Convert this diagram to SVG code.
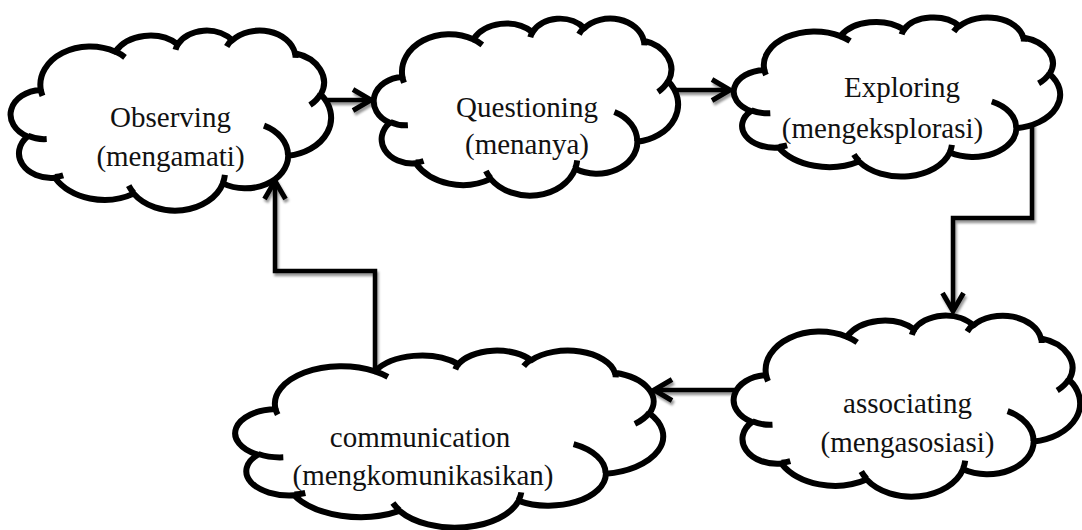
<svg xmlns="http://www.w3.org/2000/svg" width="1082" height="530" viewBox="0 0 1082 530">
<style>
.cloud{fill:#fff;stroke:#000;stroke-width:6;stroke-linejoin:round}
.inner{fill:none;stroke:#000;stroke-width:6}
.lbl{font-family:"Liberation Serif","Times New Roman",serif;font-size:29px;fill:#111;text-anchor:middle}
.conn{fill:none;stroke:#000;stroke-width:4.5;stroke-linejoin:miter}
</style>
<defs>
<marker id="arrow" markerUnits="userSpaceOnUse" markerWidth="40" markerHeight="40" refX="0" refY="0" orient="auto" overflow="visible">
<path d="M-18 -10.5 L0 0 L-18 10.5" fill="none" stroke="#000" stroke-width="5" stroke-linejoin="miter"/>
</marker>
<filter id="shadow" x="-20%" y="-20%" width="140%" height="140%">
<feDropShadow dx="1.5" dy="3" stdDeviation="1.3" flood-color="#000" flood-opacity="0.4"/>
</filter>
</defs>

<g id="node-observing">
<path class="cloud" d="M40.8 89.9 A49.87 38.29 0 0 1 115.4 51.7 A39.38 30.28 0 0 1 177.8 44.3 A32.23 24.77 0 0 1 232.3 40.3 A35.86 27.48 0 0 1 295 53.2 A39.38 30.3 0 0 1 320.8 94.4 A50.03 38.42 0 0 1 288.2 155.8 A42.72 32.78 0 0 1 222.9 183.4 A49.86 38.4 0 0 1 133.7 193.6 A57.01 43.93 0 0 1 54.9 177.8 A32.2 24.66 0 0 1 27.6 136.5 A32.09 24.77 0 0 1 40.8 89.9 Z"/>
<path class="inner" d="M46.7 139.1 A32.09 24.77 0 0 1 28 135.8 M63.2 175.4 A32.2 24.66 0 0 1 55 177 M133.7 192.9 A49.86 38.4 0 0 1 128.7 185.6 M224.9 174.8 A49.86 38.4 0 0 1 222.9 182.8 M264 125.6 A42.72 32.78 0 0 1 288 155.4 M320.6 94 A39.38 30.3 0 0 1 310 105.1 M295 52.6 A35.86 27.48 0 0 1 295.6 57.9 M226.7 46.5 A35.86 27.48 0 0 1 232.2 39.8 M175.5 49.7 A32.23 24.77 0 0 1 178.1 43.9 M115.4 51.6 A49.87 38.29 0 0 1 125 57.3 M42.5 95.8 A49.87 38.29 0 0 1 40.8 89.9"/>
<text class="lbl" x="170.5" y="127">Observing</text>
<text class="lbl" x="170.5" y="166">(mengamati)</text>
</g>

<g id="node-questioning">
<path class="cloud" d="M402.4 76.9 A47.36 37.65 0 0 1 473.2 39.3 A37.41 29.77 0 0 1 532.5 32.1 A30.62 24.36 0 0 1 584.2 28.2 A34.07 27.02 0 0 1 643.8 40.8 A37.41 29.8 0 0 1 668.3 81.3 A47.52 37.78 0 0 1 637.4 141.7 A40.57 32.23 0 0 1 575.3 168.8 A47.36 37.76 0 0 1 490.6 178.9 A54.15 43.2 0 0 1 415.7 163.3 A30.58 24.25 0 0 1 389.8 122.7 A30.48 24.36 0 0 1 402.4 76.9 Z"/>
<path class="inner" d="M407.9 125.3 A30.48 24.36 0 0 1 390.2 122 M423.6 161 A30.58 24.25 0 0 1 415.8 162.6 M490.6 178.2 A47.36 37.76 0 0 1 485.9 171 M577.2 160.4 A47.36 37.76 0 0 1 575.3 168.2 M614.4 112 A40.57 32.23 0 0 1 637.2 141.3 M668.2 80.9 A37.41 29.8 0 0 1 658 91.9 M643.8 40.2 A34.07 27.02 0 0 1 644.3 45.4 M579 34.2 A34.07 27.02 0 0 1 584.2 27.6 M530.3 37.3 A30.62 24.36 0 0 1 532.8 31.6 M473.2 39.3 A47.36 37.65 0 0 1 482.3 44.8 M404 82.7 A47.36 37.65 0 0 1 402.4 76.9"/>
<text class="lbl" x="527" y="117">Questioning</text>
<text class="lbl" x="527" y="154">(menanya)</text>
</g>

<g id="node-exploring">
<path class="cloud" d="M764.3 69.9 A50.8 33.82 0 0 1 840.4 36.1 A40.12 26.75 0 0 1 903.9 29.6 A32.84 21.88 0 0 1 959.4 26.1 A36.54 24.27 0 0 1 1023.3 37.5 A40.12 26.77 0 0 1 1049.6 73.9 A50.97 33.94 0 0 1 1016.4 128.2 A43.52 28.96 0 0 1 949.8 152.5 A50.8 33.92 0 0 1 859 161.5 A58.08 38.8 0 0 1 778.7 147.5 A32.8 21.78 0 0 1 750.9 111 A32.69 21.88 0 0 1 764.3 69.9 Z"/>
<path class="inner" d="M770.3 113.3 A32.69 21.88 0 0 1 751.3 110.4 M787.1 145.4 A32.8 21.78 0 0 1 778.8 146.9 M859 160.9 A50.8 33.92 0 0 1 853.9 154.5 M951.9 144.9 A50.8 33.92 0 0 1 949.9 151.9 M991.8 101.5 A43.52 28.96 0 0 1 1016.2 127.7 M1049.5 73.5 A40.12 26.77 0 0 1 1038.6 83.4 M1023.3 37 A36.54 24.27 0 0 1 1023.9 41.6 M953.8 31.5 A36.54 24.27 0 0 1 959.3 25.6 M901.6 34.4 A32.84 21.88 0 0 1 904.3 29.3 M840.3 36.1 A50.8 33.82 0 0 1 850.1 41.1 M766 75.1 A50.8 33.82 0 0 1 764.3 69.9"/>
<text class="lbl" x="902" y="97">Exploring</text>
<text class="lbl" x="882.5" y="138">(mengeksplorasi)</text>
</g>

<g id="node-associating">
<path class="cloud" d="M766.1 375.2 A53.93 38.5 0 0 1 846.8 336.8 A42.59 30.45 0 0 1 914.3 329.4 A34.86 24.91 0 0 1 973.3 325.4 A38.79 27.63 0 0 1 1041 338.4 A42.59 30.47 0 0 1 1069 379.8 A54.11 38.63 0 0 1 1033.7 441.5 A46.2 32.96 0 0 1 963.1 469.2 A53.92 38.61 0 0 1 866.6 479.5 A61.65 44.17 0 0 1 781.4 463.6 A34.82 24.8 0 0 1 751.9 422 A34.7 24.91 0 0 1 766.1 375.2 Z"/>
<path class="inner" d="M772.5 424.7 A34.7 24.91 0 0 1 752.3 421.3 M790.3 461.2 A34.82 24.8 0 0 1 781.5 462.8 M866.6 478.8 A53.92 38.61 0 0 1 861.3 471.5 M965.2 460.6 A53.92 38.61 0 0 1 963.1 468.6 M1007.6 411.2 A46.2 32.96 0 0 1 1033.5 441.1 M1068.8 379.3 A42.59 30.47 0 0 1 1057.2 390.5 M1041.1 337.7 A38.79 27.63 0 0 1 1041.7 343 M967.2 331.6 A38.79 27.63 0 0 1 973.1 324.8 M911.8 334.8 A34.86 24.91 0 0 1 914.7 329 M846.8 336.8 A53.93 38.5 0 0 1 857.2 342.4 M768 381.2 A53.93 38.5 0 0 1 766.1 375.2"/>
<text class="lbl" x="907.5" y="413">associating</text>
<text class="lbl" x="907.5" y="452">(mengasosiasi)</text>
</g>

<g id="node-communication">
<path class="cloud" d="M275.5 408.9 A66.59 37.65 0 0 1 375.1 371.3 A52.59 29.77 0 0 1 458.4 364.1 A43.04 24.36 0 0 1 531.2 360.2 A47.9 27.02 0 0 1 614.9 372.8 A52.59 29.8 0 0 1 649.4 413.3 A66.81 37.78 0 0 1 605.9 473.7 A57.05 32.23 0 0 1 518.6 500.8 A66.58 37.76 0 0 1 399.5 510.9 A76.13 43.2 0 0 1 294.2 495.3 A43 24.25 0 0 1 257.8 454.7 A42.85 24.36 0 0 1 275.5 408.9 Z"/>
<path class="inner" d="M283.3 457.3 A42.85 24.36 0 0 1 258.3 454 M305.3 493 A43 24.25 0 0 1 294.4 494.6 M399.5 510.2 A66.58 37.76 0 0 1 392.9 503 M521.3 492.4 A66.58 37.76 0 0 1 518.6 500.2 M573.6 444.1 A57.05 32.23 0 0 1 605.6 473.3 M649.2 412.9 A52.59 29.8 0 0 1 634.9 423.9 M614.9 372.2 A47.9 27.02 0 0 1 615.7 377.4 M523.7 366.2 A47.9 27.02 0 0 1 531.1 359.6 M455.3 369.3 A43.04 24.36 0 0 1 458.9 363.6 M375.1 371.3 A66.59 37.65 0 0 1 387.9 376.8 M277.7 414.7 A66.59 37.65 0 0 1 275.5 408.9"/>
<text class="lbl" x="420" y="447">communication</text>
<text class="lbl" x="423" y="485">(mengkomunikasikan)</text>
</g>

<g id="connectors" filter="url(#shadow)">
<path class="conn" d="M325 100 L371 100" marker-end="url(#arrow)"/>
<path class="conn" d="M676 90 L730 90" marker-end="url(#arrow)"/>
<path class="conn" d="M1032 123 L1032 218 L953 218 L953 311" marker-end="url(#arrow)"/>
<path class="conn" d="M735 390 L654 390" marker-end="url(#arrow)"/>
<path class="conn" d="M375 368 L375 271 L275 271 L275 181" marker-end="url(#arrow)"/>
</g>
</svg>
